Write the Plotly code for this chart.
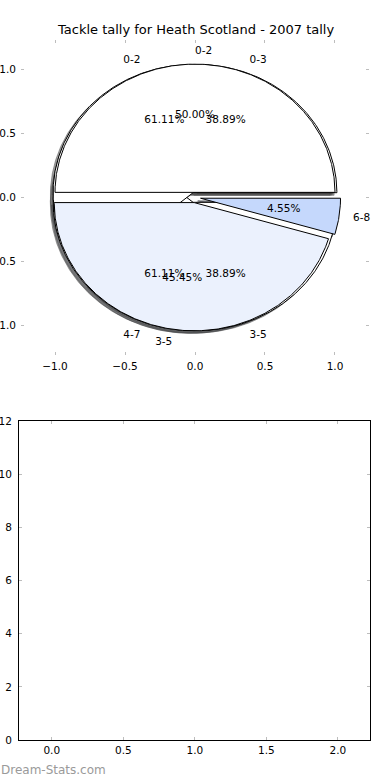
import numpy as np
import plotly.graph_objects as go

# ---------------- data ----------------
title_text = "Tackle tally for Heath Scotland - 2007 tally"
watermark_text = "Dream-Stats.com"

# pies, in drawing order (first one ends up underneath)
pie1_labels = ["0-3", "4-7"]
pie1_values = [7, 11]
pie1_colors = ["#ffffff", "#ffffff"]

pie2_labels = ["0-2", "3-5"]
pie2_values = [11, 7]
pie2_colors = ["#ffffff", "#ffffff"]

pie3_labels = ["0-2", "3-5", "6-8"]
pie3_values = [11, 10, 1]
pie3_colors = ["#ffffff", "#ebf1fd", "#c5d8fc"]

top_xticks = [-1.0, -0.5, 0.0, 0.5, 1.0]
top_yticks = [-1.0, -0.5, 0.0, 0.5, 1.0]
bottom_xticks = [0.0, 0.5, 1.0, 1.5, 2.0]
bottom_yticks = [0, 2, 4, 6, 8, 10, 12]

# ---------------- style ----------------
EXPLODE = 0.04
PCT_DIST = 0.6
LABEL_DIST = 1.1
SHADOW_OFF = -0.02
FONT = "DejaVu Sans"
W, H = 390, 780

pies = [
    (pie1_labels, pie1_values, pie1_colors),
    (pie2_labels, pie2_values, pie2_colors),
    (pie3_labels, pie3_values, pie3_colors),
]


def hex_rgb(h):
    h = h.lstrip("#")
    return tuple(int(h[i:i + 2], 16) for i in (0, 2, 4))


def wedges(values):
    vals = np.asarray(values, dtype=float)
    fr = vals / vals.sum()
    out = []
    t = 0.0
    for f in fr:
        t1, t2 = t, t + 360.0 * f
        mid = np.deg2rad((t1 + t2) / 2)
        cx, cy = EXPLODE * np.cos(mid), EXPLODE * np.sin(mid)
        ang = np.deg2rad(np.linspace(t1, t2, max(8, int(abs(t2 - t1) * 2))))
        xs = np.concatenate([[cx], cx + np.cos(ang), [cx]])
        ys = np.concatenate([[cy], cy + np.sin(ang), [cy]])
        out.append(dict(xs=xs, ys=ys, mid=mid, cx=cx, cy=cy, pct=100 * f))
        t = t2
    return out


fig = go.Figure()

geo = [wedges(v) for (_, v, _) in pies]

# shadows first (below every wedge, as in the original)
for (labels, values, colors), ws in zip(pies, geo):
    for w, c in zip(ws, colors):
        r, g, b = hex_rgb(c)
        sc = f"rgba({round(r * 0.3)},{round(g * 0.3)},{round(b * 0.3)},0.5)"
        fig.add_trace(go.Scatter(
            x=w["xs"] + SHADOW_OFF, y=w["ys"] + SHADOW_OFF, mode="lines",
            fill="toself", fillcolor=sc, line=dict(color=sc, width=1),
            hoverinfo="skip", showlegend=False, xaxis="x", yaxis="y"))

# wedges
for (labels, values, colors), ws in zip(pies, geo):
    for w, c, lab in zip(ws, colors, labels):
        fig.add_trace(go.Scatter(
            x=w["xs"], y=w["ys"], mode="lines", fill="toself", fillcolor=c,
            line=dict(color="#000000", width=1), name=lab,
            hoverinfo="skip", showlegend=False, xaxis="x", yaxis="y"))

# texts
for (labels, values, colors), ws in zip(pies, geo):
    px = [w["cx"] + PCT_DIST * np.cos(w["mid"]) for w in ws]
    py = [w["cy"] + PCT_DIST * np.sin(w["mid"]) for w in ws]
    fig.add_trace(go.Scatter(
        x=px, y=py, mode="text", text=[f"{w['pct']:.2f}%" for w in ws],
        textposition="middle center", cliponaxis=False,
        textfont=dict(family=FONT, size=10.5, color="#000000"),
        hoverinfo="skip", showlegend=False, xaxis="x", yaxis="y"))
    lx = [w["cx"] + LABEL_DIST * np.cos(w["mid"]) for w in ws]
    ly = [w["cy"] + LABEL_DIST * np.sin(w["mid"]) for w in ws]
    fig.add_trace(go.Scatter(
        x=lx, y=ly, mode="text", text=labels, cliponaxis=False,
        textposition=["middle right" if v > 0 else "middle left" for v in lx],
        textfont=dict(family=FONT, size=10.5, color="#000000"),
        hoverinfo="skip", showlegend=False, xaxis="x", yaxis="y"))

# empty bottom axes
fig.add_trace(go.Scatter(x=[], y=[], mode="markers", showlegend=False,
                         xaxis="x2", yaxis="y2"))

tickfont = dict(family=FONT, size=10.5, color="#000000")
tick_common = dict(ticks="inside", ticklen=3, tickwidth=1, tickcolor="#bdbdbd",
                   tickfont=tickfont, showgrid=False, zeroline=False,
                   automargin=False, fixedrange=True)

fig.update_layout(
    width=W, height=H,
    margin=dict(l=0, r=0, t=0, b=0),
    paper_bgcolor="white", plot_bgcolor="white",
    font=dict(family=FONT),
    xaxis=dict(domain=[21 / W, 369 / W], range=[-1.243, 1.243], anchor="y",
               tickvals=top_xticks, tickformat=".1f", showline=False,
               mirror="ticks", ticklabelstandoff=3, **tick_common),
    yaxis=dict(domain=[1 - 355 / H, 1 - 40 / H], range=[-1.228, 1.228], anchor="x",
               tickvals=top_yticks, tickformat=".1f", showline=False,
               mirror="ticks", ticklabelstandoff=4, **tick_common),
    xaxis2=dict(domain=[19 / W, 370 / W], range=[-0.229, 2.224], anchor="y2",
                tickvals=bottom_xticks, tickformat=".1f", showline=True,
                linecolor="#000000", linewidth=1, mirror="ticks",
                ticklabelstandoff=0, **tick_common),
    yaxis2=dict(domain=[1 - 740 / H, 1 - 421 / H], range=[0, 12], anchor="x2",
                tickvals=bottom_yticks, showline=True, linecolor="#000000",
                linewidth=1, mirror="ticks", ticklabelstandoff=4, **tick_common),
    annotations=[
        dict(text=title_text, x=0.5, y=1 - 30 / H, xref="paper", yref="paper",
             xanchor="center", yanchor="middle", showarrow=False,
             font=dict(family=FONT, size=13, color="#000000")),
        dict(text=watermark_text, x=0, y=1 - 770 / H, xref="paper", yref="paper",
             xanchor="left", yanchor="middle", showarrow=False, borderpad=0,
             font=dict(family=FONT, size=12, color="#9a9a9a")),
    ],
)

fig.write_html(
    "out.html",
    config={"displayModeBar": False},
    post_script=("document.body.style.margin='0px';"
                 "document.body.style.padding='0px';"
                 "document.body.style.overflow='hidden';"
                 "document.documentElement.style.overflow='hidden';"),
)
